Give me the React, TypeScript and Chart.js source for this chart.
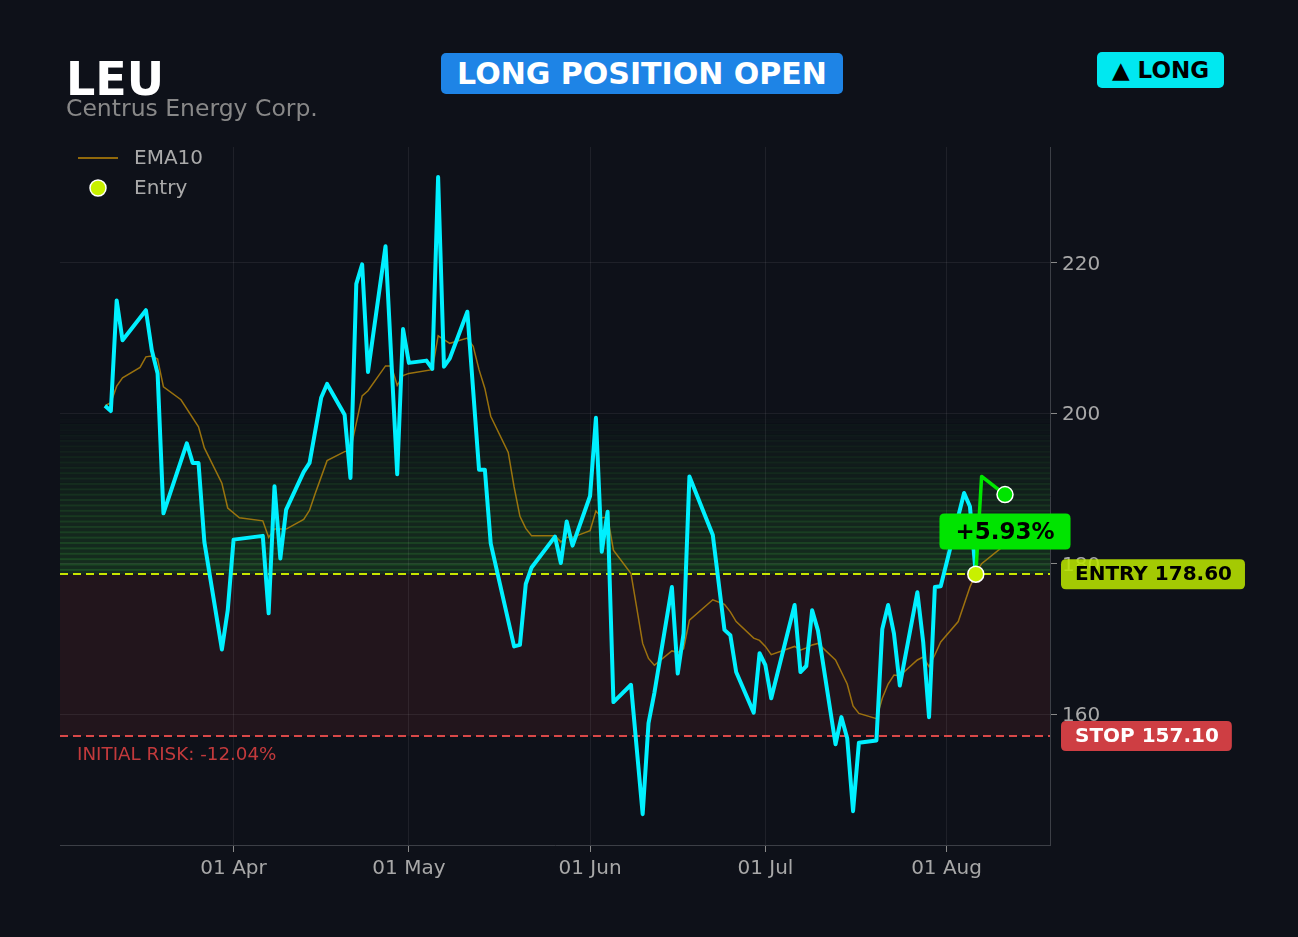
import React, { useEffect, useRef } from "react";
import { Chart, registerables } from "chart.js";

Chart.register(...registerables);

// ---------- data ----------
const ticker = "LEU";
const companyName = "Centrus Energy Corp.";
const statusText = "LONG POSITION OPEN";
const sideText = "▲ LONG";

const priceDates = [
  "2026-03-10", "2026-03-11", "2026-03-12", "2026-03-13", "2026-03-17", "2026-03-18", "2026-03-19", "2026-03-20",
  "2026-03-24", "2026-03-25", "2026-03-26", "2026-03-27", "2026-03-30", "2026-03-31", "2026-04-01", "2026-04-06",
  "2026-04-07", "2026-04-08", "2026-04-09", "2026-04-10", "2026-04-13", "2026-04-14", "2026-04-16", "2026-04-17",
  "2026-04-20", "2026-04-21", "2026-04-22", "2026-04-23", "2026-04-24", "2026-04-27", "2026-04-29", "2026-04-30",
  "2026-05-01", "2026-05-04", "2026-05-05", "2026-05-06", "2026-05-07", "2026-05-08", "2026-05-11", "2026-05-13",
  "2026-05-14", "2026-05-15", "2026-05-19", "2026-05-20", "2026-05-21", "2026-05-22", "2026-05-26", "2026-05-27",
  "2026-05-28", "2026-05-29", "2026-06-01", "2026-06-02", "2026-06-03", "2026-06-04", "2026-06-05", "2026-06-08",
  "2026-06-10", "2026-06-11", "2026-06-12", "2026-06-15", "2026-06-16", "2026-06-17", "2026-06-18", "2026-06-22",
  "2026-06-24", "2026-06-25", "2026-06-26", "2026-06-29", "2026-06-30", "2026-07-01", "2026-07-02", "2026-07-06",
  "2026-07-07", "2026-07-08", "2026-07-09", "2026-07-10", "2026-07-13", "2026-07-14", "2026-07-15", "2026-07-16",
  "2026-07-17", "2026-07-20", "2026-07-21", "2026-07-22", "2026-07-23", "2026-07-24", "2026-07-27", "2026-07-28",
  "2026-07-29", "2026-07-30", "2026-07-31", "2026-08-04", "2026-08-05", "2026-08-06",
];
const priceValues = [
  201.0, 200.3, 215.0, 209.7, 213.7, 208.4, 205.3, 186.7,
  196.0, 193.4, 193.4, 182.9, 168.6, 173.8, 183.2, 183.7,
  173.4, 190.3, 180.7, 187.2, 192.2, 193.4, 202.1, 203.9,
  199.8, 191.4, 217.2, 219.8, 205.5, 222.2, 191.9, 211.2,
  206.7, 207.0, 205.9, 231.4, 206.2, 207.3, 213.5, 192.5,
  192.5, 182.7, 169.0, 169.2, 177.3, 179.5, 183.6, 180.1,
  185.6, 182.4, 189.0, 199.4, 181.6, 186.9, 161.6, 163.9,
  146.7, 158.8, 162.8, 176.9, 165.4, 170.7, 191.6, 183.8,
  171.2, 170.5, 165.6, 160.2, 168.1, 166.5, 162.1, 174.5,
  165.6, 166.4, 173.8, 171.1, 156.0, 159.6, 156.8, 147.1,
  156.2, 156.5, 171.3, 174.5, 170.7, 163.8, 176.2, 169.6,
  159.6, 176.9, 177.0, 189.4, 187.6, 178.6,
];

const postEntryDates = ["2026-08-06", "2026-08-07", "2026-08-11"];
const postEntryValues = [178.6, 191.6, 189.19];

const emaDates = [
  "2026-03-10", "2026-03-11", "2026-03-12", "2026-03-13", "2026-03-16", "2026-03-17", "2026-03-18", "2026-03-19",
  "2026-03-20", "2026-03-23", "2026-03-26", "2026-03-27", "2026-03-30", "2026-03-31", "2026-04-02", "2026-04-06",
  "2026-04-07", "2026-04-08", "2026-04-10", "2026-04-13", "2026-04-14", "2026-04-15", "2026-04-17", "2026-04-20",
  "2026-04-21", "2026-04-22", "2026-04-23", "2026-04-24", "2026-04-27", "2026-04-28", "2026-04-29", "2026-04-30",
  "2026-05-01", "2026-05-05", "2026-05-06", "2026-05-07", "2026-05-08", "2026-05-11", "2026-05-12", "2026-05-13",
  "2026-05-14", "2026-05-15", "2026-05-18", "2026-05-19", "2026-05-20", "2026-05-21", "2026-05-22", "2026-05-26",
  "2026-05-27", "2026-05-28", "2026-05-29", "2026-06-01", "2026-06-02", "2026-06-03", "2026-06-04", "2026-06-05",
  "2026-06-08", "2026-06-10", "2026-06-11", "2026-06-12", "2026-06-15", "2026-06-16", "2026-06-17", "2026-06-18",
  "2026-06-22", "2026-06-24", "2026-06-25", "2026-06-26", "2026-06-29", "2026-06-30", "2026-07-01", "2026-07-02",
  "2026-07-06", "2026-07-07", "2026-07-08", "2026-07-09", "2026-07-10", "2026-07-13", "2026-07-15", "2026-07-16",
  "2026-07-17", "2026-07-20", "2026-07-21", "2026-07-22", "2026-07-23", "2026-07-24", "2026-07-27", "2026-07-28",
  "2026-07-29", "2026-07-30", "2026-07-31", "2026-08-03", "2026-08-05", "2026-08-06", "2026-08-07", "2026-08-11",
];
const emaValues = [
  201.0, 201.4, 203.6, 204.7, 206.1, 207.5, 207.6, 207.2,
  203.5, 201.8, 198.2, 195.4, 190.7, 187.4, 186.1, 185.7,
  183.5, 184.6, 184.6, 185.9, 187.1, 189.4, 193.7, 194.9,
  195.1, 198.7, 202.3, 203.0, 206.3, 206.3, 203.7, 205.0,
  205.3, 205.8, 210.3, 209.8, 209.3, 210.0, 208.9, 205.8,
  203.3, 199.6, 194.8, 190.2, 186.3, 184.7, 183.7, 183.7,
  182.9, 183.5, 183.5, 184.4, 187.0, 186.1, 186.2, 181.8,
  178.7, 169.4, 167.4, 166.5, 168.4, 168.2, 168.7, 172.5,
  175.2, 174.6, 173.6, 172.3, 170.1, 169.8, 169.0, 167.9,
  169.0, 168.5, 168.8, 169.2, 169.4, 167.2, 164.0, 161.1,
  160.1, 159.4, 162.1, 164.0, 165.2, 165.1, 167.2, 167.6,
  166.3, 167.9, 169.6, 172.3, 176.9, 178.7, 180.0, 182.5,
];

const entryDate = "2026-08-06";
const entryPrice = 178.6;
const stopPrice = 157.1;
const targetPrice = 200.03;
const pnlText = "+5.93%";
const riskText = "INITIAL RISK: -12.04%";
const entryLabel = "ENTRY 178.60";
const stopLabel = "STOP 157.10";

const yTicks = [160, 180, 200, 220];
const yMin = 142.6;
const yMax = 235.4;
const xTickDates = ["2026-04-01", "2026-05-01", "2026-06-01", "2026-07-01", "2026-08-01"];
const xTickLabels = ["01 Apr", "01 May", "01 Jun", "01 Jul", "01 Aug"];

const legendLabels = ["EMA10", "Entry"];

// ---------- helpers ----------
const FONT = "'DejaVu Sans', 'Noto Sans', sans-serif";
const toDay = (s: string) => Date.parse(s + "T00:00:00Z") / 86400000;
const BG = "#0e1119";
const CYAN = "#00f0ff";
const GREEN = "#00e600";
const EMA_COLOR = "rgba(184,134,11,0.82)";
const ENTRY_COLOR = "#c8f000";

function roundRect(ctx: CanvasRenderingContext2D, x: number, y: number, w: number, h: number, r: number) {
  ctx.beginPath();
  ctx.moveTo(x + r, y);
  ctx.lineTo(x + w - r, y);
  ctx.quadraticCurveTo(x + w, y, x + w, y + r);
  ctx.lineTo(x + w, y + h - r);
  ctx.quadraticCurveTo(x + w, y + h, x + w - r, y + h);
  ctx.lineTo(x + r, y + h);
  ctx.quadraticCurveTo(x, y + h, x, y + h - r);
  ctx.lineTo(x, y + r);
  ctx.quadraticCurveTo(x, y, x + r, y);
  ctx.closePath();
}

const overlayPlugin = {
  id: "tradeOverlay",
  beforeDraw(chart: any) {
    const { ctx, chartArea: a, scales } = chart;
    const y = scales.y;
    const w = a.right - a.left;
    ctx.save();
    ctx.fillStyle = BG;
    ctx.fillRect(0, 0, chart.width, chart.height);
    // risk zone
    const pE = y.getPixelForValue(entryPrice);
    const pS = y.getPixelForValue(stopPrice);
    ctx.fillStyle = "rgba(180,60,60,0.12)";
    ctx.fillRect(a.left, pE, w, pS - pE);
    // reward zone stripes
    const n = 30;
    for (let i = 0; i < n; i++) {
      const v0 = entryPrice + ((targetPrice - entryPrice) * i) / n;
      const v1 = entryPrice + ((targetPrice - entryPrice) * (i + 1)) / n;
      const p0 = y.getPixelForValue(v0);
      const p1 = y.getPixelForValue(v1);
      const al = 1 - i / n;
      ctx.fillStyle = `rgba(60,180,60,${0.18 * al})`;
      ctx.fillRect(a.left, p1, w, p0 - p1);
      ctx.fillStyle = `rgba(60,180,60,${0.22 * al})`;
      ctx.fillRect(a.left, p1, w, 2);
    }
    ctx.restore();
  },
  beforeDatasetsDraw(chart: any) {
    const { ctx, chartArea: a, scales } = chart;
    const y = scales.y;
    ctx.save();
    ctx.lineWidth = 2;
    ctx.setLineDash([8, 5]);
    const pE = Math.round(y.getPixelForValue(entryPrice));
    ctx.strokeStyle = "#c8e600";
    ctx.beginPath();
    ctx.moveTo(a.left, pE);
    ctx.lineTo(a.right, pE);
    ctx.stroke();
    const pS = Math.round(y.getPixelForValue(stopPrice));
    ctx.strokeStyle = "#d94848";
    ctx.beginPath();
    ctx.moveTo(a.left, pS);
    ctx.lineTo(a.right, pS);
    ctx.stroke();
    ctx.restore();
  },
  afterDraw(chart: any) {
    const { ctx, chartArea: a, scales } = chart;
    const y = scales.y;
    const x = scales.x;
    ctx.save();
    // right-side price tags
    const tag = (label: string, value: number, bg: string, fg: string) => {
      const py = y.getPixelForValue(value);
      ctx.font = `bold 20px ${FONT}`;
      const tw = ctx.measureText(label).width;
      const bx = a.right + 11;
      const h = 30;
      ctx.fillStyle = bg;
      roundRect(ctx, bx, py - h / 2, tw + 27, h, 5);
      ctx.fill();
      ctx.fillStyle = fg;
      ctx.textAlign = "left";
      ctx.textBaseline = "middle";
      ctx.fillText(label, bx + 14, py + 1);
    };
    tag(entryLabel, entryPrice, "rgba(186,228,0,0.88)", "#000000");
    tag(stopLabel, stopPrice, "rgba(222,66,70,0.92)", "#ffffff");

    // P&L tag
    const lastX = x.getPixelForValue(toDay(postEntryDates[postEntryDates.length - 1]));
    const lastY = y.getPixelForValue(postEntryValues[postEntryValues.length - 1]);
    ctx.font = `bold 23px ${FONT}`;
    const pw = ctx.measureText(pnlText).width + 32;
    const ph = 36;
    const cy = lastY + 37;
    ctx.fillStyle = "#00e400";
    roundRect(ctx, lastX - pw / 2, cy - ph / 2, pw, ph, 5);
    ctx.fill();
    ctx.fillStyle = "#000000";
    ctx.textAlign = "center";
    ctx.textBaseline = "middle";
    ctx.fillText(pnlText, lastX, cy + 1);

    // initial risk text
    const pS = y.getPixelForValue(stopPrice);
    ctx.font = `18.3px ${FONT}`;
    ctx.fillStyle = "#c23a3c";
    ctx.textAlign = "left";
    ctx.textBaseline = "alphabetic";
    ctx.fillText(riskText, a.left + 17, pS + 24);

    // legend
    ctx.font = `20px ${FONT}`;
    ctx.fillStyle = "#aaaaaa";
    ctx.textBaseline = "middle";
    ctx.fillText(legendLabels[0], a.left + 74, a.top + 12);
    ctx.fillText(legendLabels[1], a.left + 74, a.top + 42);
    ctx.strokeStyle = "rgba(160,115,10,0.9)";
    ctx.lineWidth = 1.8;
    ctx.setLineDash([]);
    ctx.beginPath();
    ctx.moveTo(a.left + 18, a.top + 11);
    ctx.lineTo(a.left + 58, a.top + 11);
    ctx.stroke();
    ctx.beginPath();
    ctx.arc(a.left + 38, a.top + 41, 8, 0, Math.PI * 2);
    ctx.fillStyle = ENTRY_COLOR;
    ctx.fill();
    ctx.strokeStyle = "#ffffff";
    ctx.lineWidth = 1.5;
    ctx.stroke();
    ctx.restore();
  },
};

export default function App() {
  const canvasRef = useRef<HTMLCanvasElement | null>(null);

  useEffect(() => {
    document.body.style.margin = "0";
    document.body.style.background = BG;
    const canvas = canvasRef.current;
    if (!canvas) return;

    const priceData = priceDates.map((d, i) => ({ x: toDay(d), y: priceValues[i] }));
    const postData = postEntryDates.map((d, i) => ({ x: toDay(d), y: postEntryValues[i] }));
    const emaData = emaDates.map((d, i) => ({ x: toDay(d), y: emaValues[i] }));
    const entryData = [{ x: toDay(entryDate), y: entryPrice }];
    const lastData = [postData[postData.length - 1]];

    const first = toDay(priceDates[0]);
    const last = toDay(postEntryDates[postEntryDates.length - 1]);
    const span = last - first;
    const xMin = first - 0.05 * span;
    const xMax = last + 0.05 * span;
    const xTickValues = xTickDates.map(toDay);

    const chart = new Chart(canvas, {
      type: "line",
      data: {
        datasets: [
          {
            label: "Entry",
            data: entryData,
            showLine: false,
            pointRadius: 8,
            pointBackgroundColor: ENTRY_COLOR,
            pointBorderColor: "#ffffff",
            pointBorderWidth: 1.5,
            order: 0,
          },
          {
            label: "Current",
            data: lastData,
            showLine: false,
            pointRadius: 8,
            pointBackgroundColor: "#00e400",
            pointBorderColor: "#ffffff",
            pointBorderWidth: 1.5,
            order: 0,
          },
          {
            label: "Since entry",
            data: postData,
            borderColor: GREEN,
            borderWidth: 3.5,
            pointRadius: 0,
            tension: 0,
            borderJoinStyle: "round",
            order: 1,
          },
          {
            label: "Price",
            data: priceData,
            borderColor: CYAN,
            borderWidth: 4,
            pointRadius: 0,
            tension: 0,
            borderJoinStyle: "round",
            order: 2,
          },
          {
            label: "EMA10",
            data: emaData,
            borderColor: EMA_COLOR,
            borderWidth: 1.5,
            pointRadius: 0,
            tension: 0,
            order: 3,
          },
        ],
      },
      options: {
        responsive: false,
        animation: false,
        events: [],
        layout: { padding: { left: 60, top: 147, right: 0, bottom: 0 } },
        plugins: {
          legend: { display: false },
          tooltip: { enabled: false },
          title: { display: false },
        },
        scales: {
          x: {
            type: "linear",
            position: "bottom",
            min: xMin,
            max: xMax,
            afterFit: (s: any) => {
              s.height = 92;
            },
            afterBuildTicks: (s: any) => {
              s.ticks = xTickValues.map((v) => ({ value: v }));
            },
            ticks: {
              callback: (v: any) => {
                const i = xTickValues.indexOf(Number(v));
                return i >= 0 ? xTickLabels[i] : "";
              },
              color: "#a8a8a8",
              font: { family: FONT, size: 20 },
              padding: 5,
              maxRotation: 0,
              autoSkip: false,
            },
            grid: {
              color: "rgba(255,255,255,0.07)",
              tickColor: "#8a8a8a",
              tickLength: 7,
              lineWidth: 1,
            },
            border: { color: "#3c3f46", width: 1 },
          },
          y: {
            type: "linear",
            position: "right",
            min: yMin,
            max: yMax,
            afterFit: (s: any) => {
              s.width = 248;
            },
            afterBuildTicks: (s: any) => {
              s.ticks = yTicks.map((v) => ({ value: v }));
            },
            ticks: {
              color: "#a8a8a8",
              font: { family: FONT, size: 20 },
              padding: 5,
              labelOffset: 2,
              callback: (v: any) => String(v),
            },
            grid: {
              color: "rgba(255,255,255,0.07)",
              tickColor: "#8a8a8a",
              tickLength: 7,
              lineWidth: 1,
            },
            border: { color: "#3c3f46", width: 1 },
          },
        },
      },
      plugins: [overlayPlugin],
    } as any);

    return () => chart.destroy();
  }, []);

  return (
    <div
      style={{
        position: "absolute",
        left: 0,
        top: 0,
        width: 1298,
        height: 937,
        background: BG,
        overflow: "hidden",
        fontFamily: FONT,
      }}
    >
      <canvas ref={canvasRef} width={1298} height={937} style={{ position: "absolute", left: 0, top: 0, width: 1298, height: 937 }} />
      <div
        style={{
          position: "absolute",
          left: 66,
          top: 56,
          fontSize: 46,
          lineHeight: "46px",
          fontWeight: "bold",
          color: "#ffffff",
          whiteSpace: "nowrap",
        }}
      >
        {ticker}
      </div>
      <div
        style={{
          position: "absolute",
          left: 66,
          top: 97,
          fontSize: 23.5,
          lineHeight: "23px",
          color: "#888888",
          whiteSpace: "nowrap",
        }}
      >
        {companyName}
      </div>
      <div
        style={{
          position: "absolute",
          left: 441,
          top: 53,
          width: 402,
          height: 41,
          lineHeight: "41px",
          background: "#1e84e6",
          borderRadius: 5,
          color: "#ffffff",
          fontSize: 30,
          fontWeight: "bold",
          textAlign: "center",
          whiteSpace: "nowrap",
        }}
      >
        {statusText}
      </div>
      <div
        style={{
          position: "absolute",
          left: 1097,
          top: 52,
          width: 127,
          height: 36,
          lineHeight: "36px",
          background: "#00e8f0",
          borderRadius: 5,
          color: "#000000",
          fontSize: 23,
          fontWeight: "bold",
          textAlign: "center",
          whiteSpace: "nowrap",
        }}
      >
        {sideText}
      </div>
    </div>
  );
}
